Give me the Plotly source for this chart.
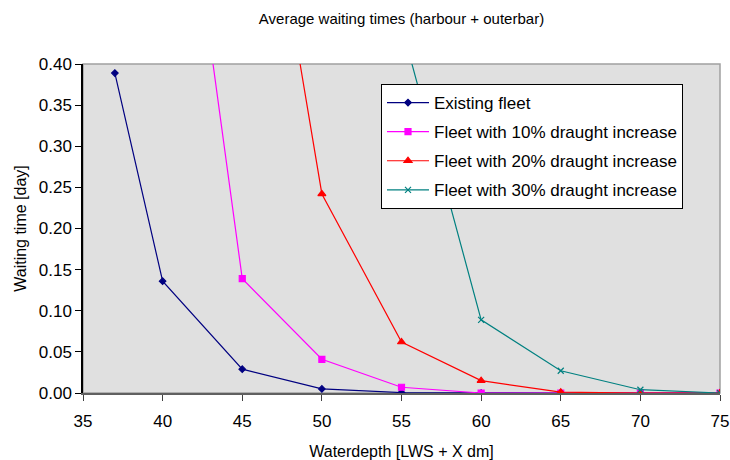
import plotly.graph_objects as go

# Data
depth = [37, 40, 45, 50, 55, 60, 65, 70, 75]
existing = [0.389, 0.136, 0.029, 0.005, 0.0005, 0.0, 0.0, 0.0, 0.0]
depth_10 = [40, 45, 50, 55, 60, 65, 70, 75]
fleet_10 = [0.85, 0.139, 0.041, 0.007, 0.0, 0.0, 0.0, 0.0]
depth_20 = [45, 50, 55, 60, 65, 70, 75]
fleet_20 = [0.82, 0.242, 0.062, 0.015, 0.001, 0.0, 0.0]
depth_30 = [55, 60, 65, 70, 75]
fleet_30 = [0.447, 0.089, 0.027, 0.004, 0.0]

names = ["Existing fleet", "Fleet with 10% draught increase",
         "Fleet with 20% draught increase", "Fleet with 30% draught increase"]
x_ticks = [35, 40, 45, 50, 55, 60, 65, 70, 75]
y_ticks = [0.0, 0.05, 0.10, 0.15, 0.20, 0.25, 0.30, 0.35, 0.40]

FONT = "Liberation Sans, Arial, sans-serif"

fig = go.Figure()
series = [
    (depth, existing, names[0], "#000080", "diamond", 5),
    (depth_10, fleet_10, names[1], "#ff00ff", "square", 6),
    (depth_20, fleet_20, names[2], "#ff0000", "triangle-up", 7),
    (depth_30, fleet_30, names[3], "#008080", "x-thin-open", 6),
]
for i, (xs, ys, nm, col, sym, sz) in enumerate(series):
    fig.add_trace(go.Scatter(
        x=xs, y=ys, name=nm, mode="lines+markers",
        line=dict(color=col, width=1.2),
        marker=dict(symbol=sym, size=sz, color=col, line=dict(color=col, width=1.2)),
        legendgroup=f"g{i}", cliponaxis=True,
    ))

fig.add_shape(type="rect", xref="paper", yref="paper", x0=0, x1=1, y0=0, y1=1,
              line=dict(color="#a0a0a0", width=1.5), fillcolor="rgba(0,0,0,0)", layer="below")

fig.update_layout(
    width=730, height=460,
    margin=dict(l=83, r=10, t=64, b=67),
    paper_bgcolor="white", plot_bgcolor="#e0e0e0",
    font=dict(family=FONT, size=15, color="black"),
    title=dict(text="Average waiting times (harbour + outerbar)", x=0.5, xref="paper",
               y=1 - 19 / 460, yanchor="middle", font=dict(size=15)),
    showlegend=True,
    legend=dict(x=(381 - 83) / 637, y=(393 - 84) / 329, xanchor="left", yanchor="top",
                bgcolor="white", bordercolor="black", borderwidth=1, itemwidth=42,
                entrywidth=312, entrywidthmode="pixels",
                font=dict(size=17), tracegroupgap=4, traceorder="grouped"),
    xaxis=dict(range=[35, 75], tickvals=x_ticks, ticks="outside", ticklen=6,
               tickcolor="#404040", showline=True, linecolor="#606060", linewidth=2,
               showgrid=False, zeroline=False, automargin=False, ticklabelstandoff=6,
               tickfont=dict(size=17),
               title=dict(text="Waterdepth [LWS + X dm]", font=dict(size=16), standoff=15)),
    yaxis=dict(range=[0, 0.4], tickvals=y_ticks, tickformat=".2f", ticks="outside",
               ticklen=6, tickcolor="black", showline=True, linecolor="black", linewidth=1.5,
               showgrid=False, zeroline=False, automargin=False,
               tickfont=dict(size=17),
               title=dict(text="Waiting time [day]", font=dict(size=16), standoff=8)),
)

fig.write_html("out.html")
